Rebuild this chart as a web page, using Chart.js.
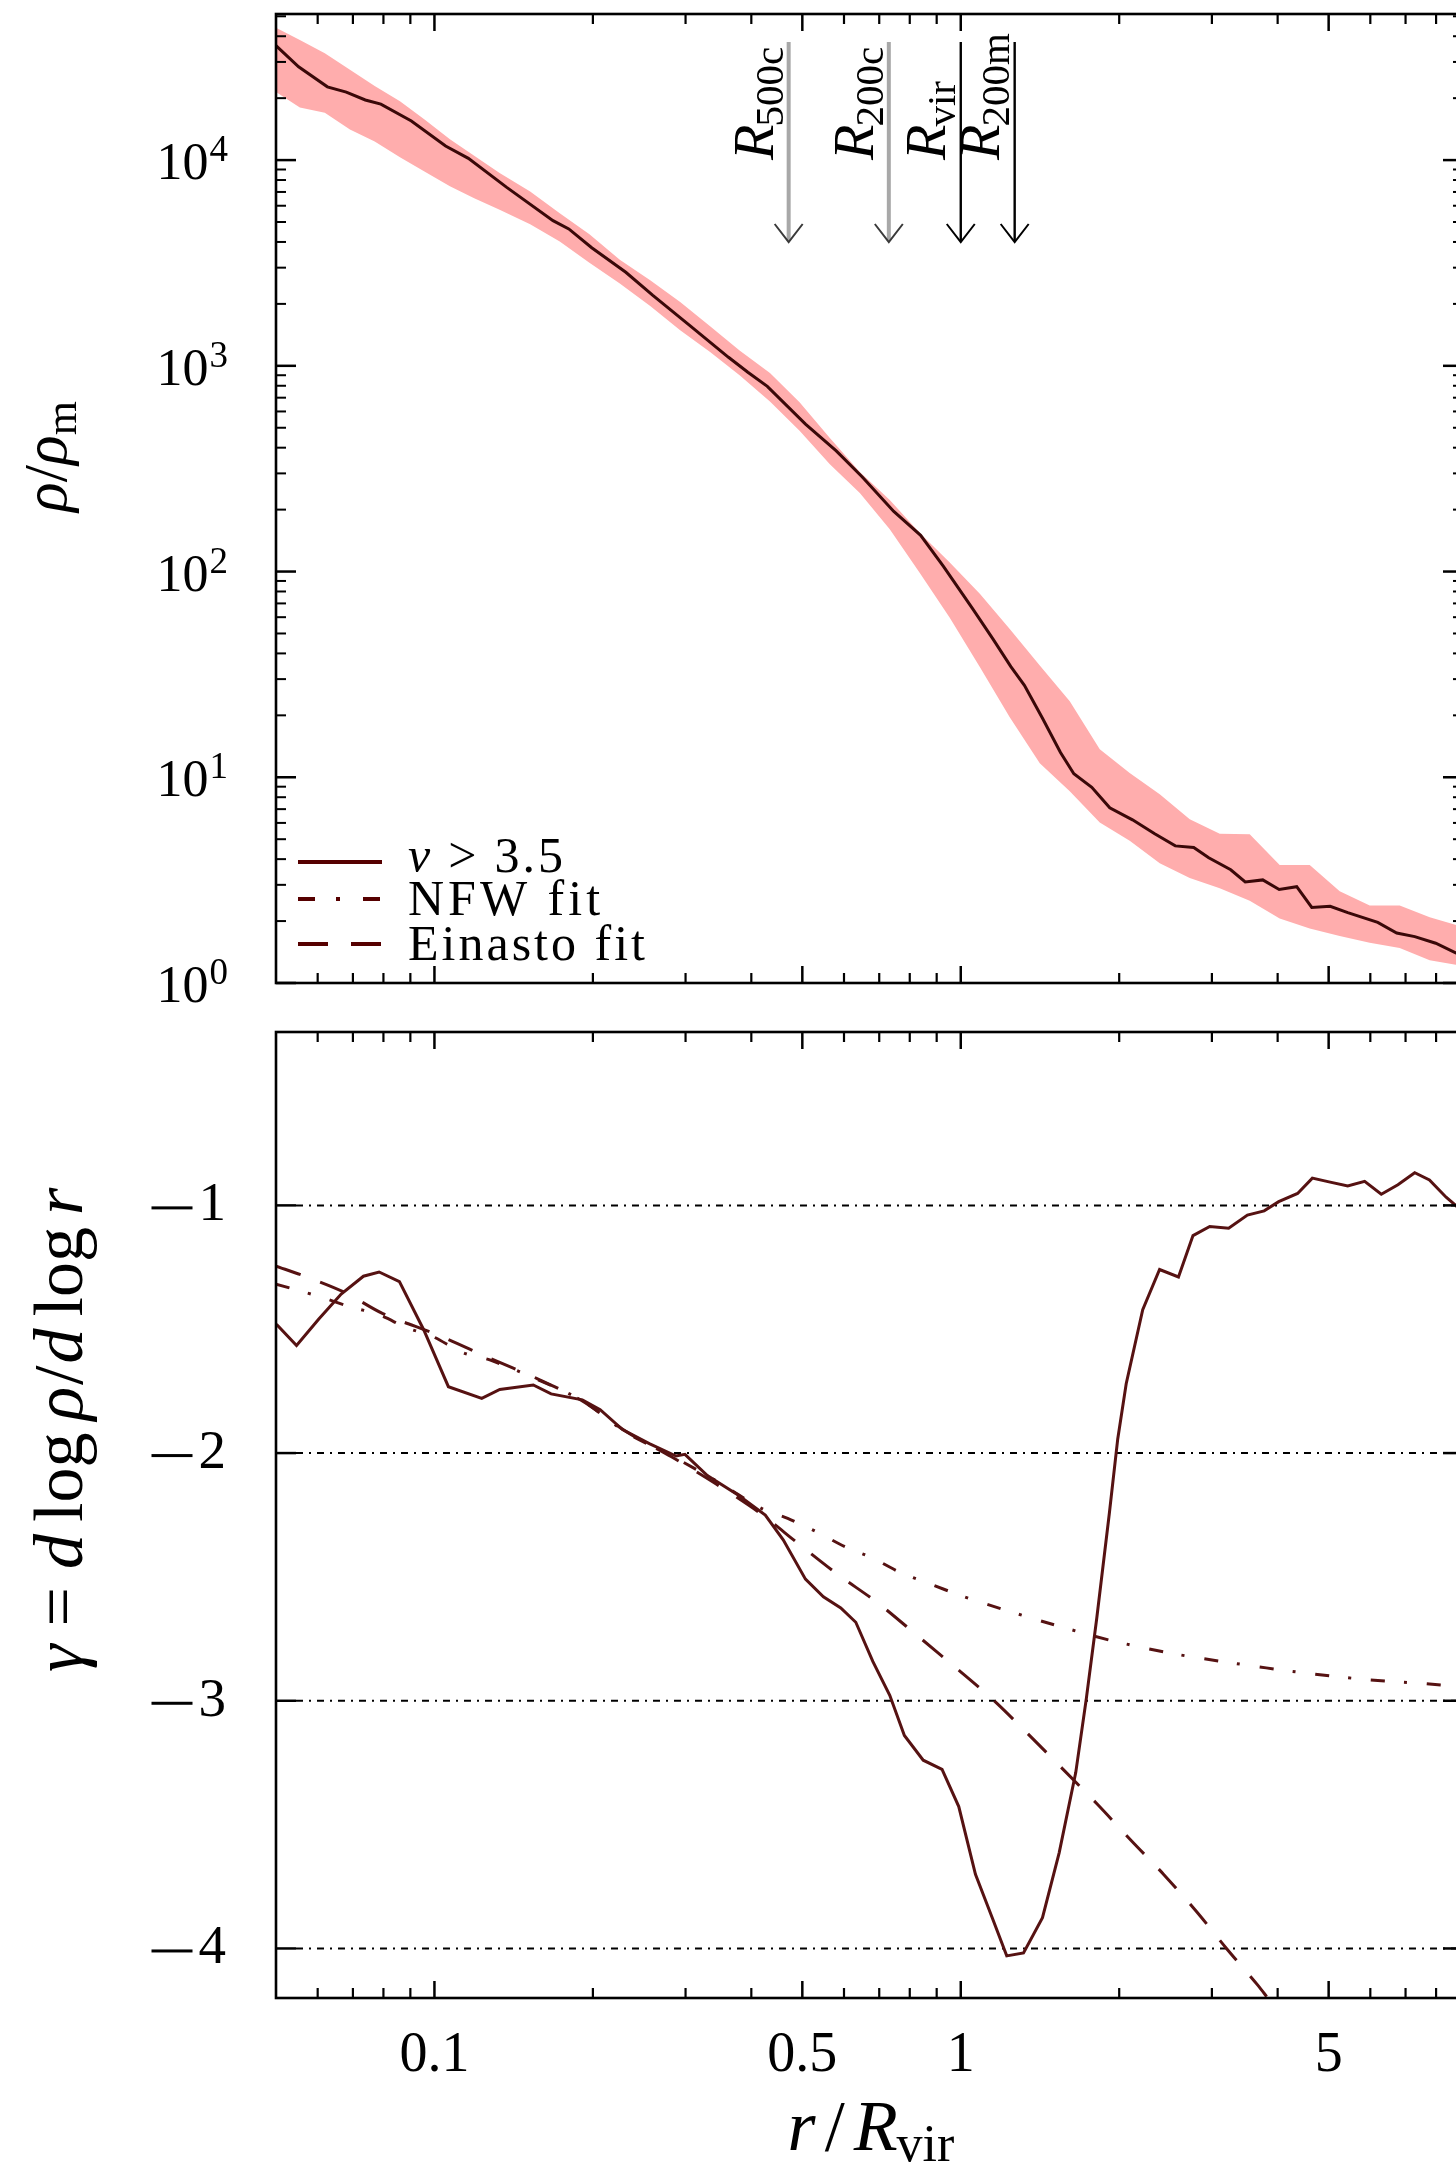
<!DOCTYPE html>
<html>
<head>
<meta charset="utf-8">
<title>Density profile and logarithmic slope</title>
<script src="https://cdn.jsdelivr.net/npm/chart.js@4.4.1/dist/chart.umd.min.js"></script>
<style>
  html, body { margin: 0; padding: 0; background: #fff; overflow: hidden; }
  #wrap { position: relative; width: 1456px; height: 2169px; overflow: hidden; background: #fff; }
  canvas { position: absolute; left: 0; }
</style>
</head>
<body>
<div id="wrap">
  <canvas id="densityCanvas" width="1470" height="1010" style="top:0px"></canvas>
  <canvas id="slopeCanvas" width="1470" height="1159" style="top:1010px"></canvas>
</div>
<script>
// ---------------- data ----------------
// radial bins (r / R_vir) of the 68% scatter band
const bandR = [0.05, 0.0555, 0.0619, 0.0691, 0.077, 0.086, 0.0959, 0.107, 0.119, 0.133, 0.152, 0.173, 0.197, 0.225, 0.257, 0.293, 0.334, 0.380, 0.434, 0.494, 0.564, 0.643, 0.733, 0.836, 0.953, 1.087, 1.239, 1.413, 1.611, 1.837, 2.094, 2.388, 2.723, 3.105, 3.54, 4.036, 4.603, 5.248, 5.984, 6.823, 7.78, 9.0];
const bandLow = [21420, 18030, 17010, 14080, 12330, 10320, 8773, 7458, 6526, 5731, 4882, 4022, 3168, 2515, 1956, 1490, 1168, 900, 671, 483, 332, 241, 160.5, 98.3, 59.7, 34.4, 19.6, 11.7, 8.55, 6.03, 4.91, 3.82, 3.24, 2.89, 2.51, 2.06, 1.84, 1.69, 1.57, 1.48, 1.29, 1.21];
const bandHigh = [44030, 38370, 33020, 27480, 22940, 19330, 15690, 12630, 10490, 8655, 7035, 5523, 4355, 3280, 2604, 2045, 1555, 1187, 922, 665, 446, 305, 222.8, 153.8, 110.6, 78.1, 52.6, 34.9, 23.4, 13.7, 10.5, 8.28, 6.25, 5.32, 5.28, 3.75, 3.75, 2.79, 2.38, 2.38, 2.09, 1.87];

// median stacked profile, nu > 3.5
const medianR = [0.05, 0.0552, 0.0626, 0.068, 0.0739, 0.0791, 0.0904, 0.105, 0.116, 0.137, 0.168, 0.180, 0.199, 0.231, 0.260, 0.307, 0.362, 0.394, 0.429, 0.507, 0.580, 0.650, 0.746, 0.839, 0.927, 1.053, 1.150, 1.245, 1.321, 1.429, 1.547, 1.640, 1.774, 1.919, 2.120, 2.336, 2.556, 2.771, 2.959, 3.258, 3.471, 3.748, 4.027, 4.348, 4.644, 5.034, 5.436, 6.198, 6.734, 7.288, 7.988, 8.716, 9.0];
const medianRho = [36000, 28400, 22700, 21400, 19600, 18700, 15500, 11700, 10200, 7390, 5080, 4630, 3750, 2850, 2200, 1556, 1100, 930, 795, 521, 386, 288, 196, 150, 106, 66, 47.2, 34.5, 28.0, 19.4, 13.2, 10.4, 8.94, 7.11, 6.21, 5.31, 4.64, 4.56, 4.06, 3.55, 3.10, 3.17, 2.85, 2.94, 2.33, 2.36, 2.20, 1.97, 1.75, 1.68, 1.56, 1.40, 1.36];

// logarithmic slope of the median profile
const slopeR = [0.0501, 0.0547, 0.0603, 0.0665, 0.0733, 0.0785, 0.0858, 0.0954, 0.1063, 0.1230, 0.1331, 0.1541, 0.1666, 0.1910, 0.2065, 0.2277, 0.2560, 0.2878, 0.2992, 0.3300, 0.3781, 0.4252, 0.4599, 0.5069, 0.5483, 0.5916, 0.6318, 0.6806, 0.7330, 0.7814, 0.8485, 0.9214, 0.9913, 1.0664, 1.1476, 1.2228, 1.3159, 1.4298, 1.5380, 1.6537, 1.7322, 1.8129, 1.9157, 1.9870, 2.0622, 2.2168, 2.3865, 2.5920, 2.7621, 2.9720, 3.2285, 3.5046, 3.7710, 4.0187, 4.3652, 4.6558, 5.0083, 5.4356, 5.8530, 6.2951, 6.7701, 7.2860, 7.7713, 8.3594, 8.7158, 9.0];
const slopeGamma = [-1.480, -1.566, -1.459, -1.358, -1.286, -1.269, -1.308, -1.502, -1.732, -1.779, -1.743, -1.725, -1.761, -1.785, -1.825, -1.905, -1.962, -2.012, -2.005, -2.091, -2.170, -2.250, -2.350, -2.509, -2.580, -2.625, -2.683, -2.841, -2.978, -3.140, -3.240, -3.277, -3.427, -3.701, -3.876, -4.030, -4.018, -3.876, -3.614, -3.290, -2.991, -2.667, -2.243, -1.944, -1.720, -1.421, -1.259, -1.289, -1.122, -1.085, -1.092, -1.039, -1.022, -0.985, -0.952, -0.890, -0.905, -0.922, -0.903, -0.955, -0.917, -0.868, -0.897, -0.967, -1.000, -1.030];

// slope of the NFW fit
const nfwR = [0.05, 0.06, 0.0686, 0.0787, 0.0885, 0.0989, 0.1134, 0.1274, 0.157, 0.191, 0.232, 0.282, 0.343, 0.417, 0.469, 0.532, 0.604, 0.680, 0.764, 0.868, 0.994, 1.127, 1.470, 1.933, 2.521, 3.317, 4.365, 5.799, 7.628, 9.0];
const nfwGamma = [-1.318, -1.366, -1.407, -1.443, -1.494, -1.528, -1.595, -1.624, -1.703, -1.789, -1.918, -2.011, -2.112, -2.222, -2.264, -2.318, -2.379, -2.424, -2.480, -2.526, -2.573, -2.612, -2.687, -2.757, -2.809, -2.849, -2.884, -2.913, -2.931, -2.945];

// slope of the Einasto fit
const einastoR = [0.05, 0.0567, 0.0676, 0.0798, 0.1017, 0.1269, 0.157, 0.191, 0.232, 0.282, 0.343, 0.417, 0.4876, 0.5812, 0.6956, 0.826, 0.9766, 1.1477, 1.3406, 1.5666, 1.8199, 2.1073, 2.4295, 2.8043, 3.198, 3.67, 3.83];
const einastoGamma = [-1.245, -1.286, -1.352, -1.437, -1.524, -1.615, -1.700, -1.790, -1.915, -2.015, -2.125, -2.245, -2.360, -2.487, -2.605, -2.736, -2.865, -2.993, -3.133, -3.278, -3.419, -3.564, -3.701, -3.851, -4.000, -4.149, -4.200];

// characteristic radii, in units of R_vir
const radiusNames = ['500c', '200c', 'vir', '200m'];
const radiusValues = [0.471, 0.730, 1.0, 1.266];

// axis ticks
const xMajorTicks = [0.1, 0.5, 1, 5];
const xTickLabels = ['0.1', '0.5', '1', '5'];
const xMinorTicks = [0.06, 0.07, 0.08, 0.09, 0.2, 0.3, 0.4, 0.6, 0.7, 0.8, 0.9, 2, 3, 4, 6, 7, 8];
const densityPowers = [0, 1, 2, 3, 4];
const slopeTicks = [-1, -2, -3, -4];
const slopeTickDigits = ['1', '2', '3', '4'];

// legend entries
const legendNames = ['3.5', 'NFW fit', 'Einasto fit'];

// ---------------- styling helpers ----------------
const FAM = '"Liberation Serif", "Times New Roman", serif';
const font = (size, style) => (style ? style + ' ' : '') + size + 'px ' + FAM;
const LINE_TOP = '#3a0808';
const LINE_BOT = '#561212';
const BAND = '#ffadad';
const NFW_DASH = [14, 19, 3, 20];
const EIN_DASH = [26, 21];

function seg(ctx, x0, y0, x1, y1) {
  ctx.beginPath(); ctx.moveTo(x0, y0); ctx.lineTo(x1, y1); ctx.stroke();
}
function runsWidth(ctx, runs) {
  let w = 0;
  for (const r of runs) {
    ctx.font = r.font;
    ctx.letterSpacing = (r.ls || 0) + 'px';
    w += ctx.measureText(r.text).width + (r.gap || 0);
  }
  ctx.letterSpacing = '0px';
  return w;
}
function drawRuns(ctx, x, y, runs) {
  let cx = x;
  for (const r of runs) {
    ctx.font = r.font;
    ctx.letterSpacing = (r.ls || 0) + 'px';
    ctx.fillText(r.text, cx, y + (r.dy || 0));
    cx += ctx.measureText(r.text).width + (r.gap || 0);
  }
  ctx.letterSpacing = '0px';
  return cx - x;
}
// text read bottom-to-top, centred on cy, baseline at x = bx
function drawVertical(ctx, bx, cy, runs) {
  const w = runsWidth(ctx, runs);
  ctx.save();
  ctx.translate(bx, cy + w / 2);
  ctx.rotate(-Math.PI / 2);
  drawRuns(ctx, 0, 0, runs);
  ctx.restore();
}
function drawXTicks(ctx, a, xs) {
  ctx.strokeStyle = '#000';
  ctx.lineWidth = 2.5;
  xMajorTicks.forEach(v => {
    const p = xs.getPixelForValue(v);
    seg(ctx, p, a.top, p, a.top + 17); seg(ctx, p, a.bottom, p, a.bottom - 17);
  });
  ctx.lineWidth = 2.2;
  xMinorTicks.forEach(v => {
    const p = xs.getPixelForValue(v);
    seg(ctx, p, a.top, p, a.top + 10); seg(ctx, p, a.bottom, p, a.bottom - 10);
  });
}

// ---------------- upper panel: density profile ----------------
const densityFrame = {
  id: 'densityFrame',
  afterDatasetsDraw(chart) {
    const { ctx, chartArea: a, scales: { x, y } } = chart;
    ctx.save();
    ctx.fillStyle = '#000';
    ctx.strokeStyle = '#000';
    ctx.lineWidth = 2.6;
    ctx.strokeRect(a.left, a.top, a.right - a.left, a.bottom - a.top);
    drawXTicks(ctx, a, x);

    // decade ticks, minor ticks and 10^k labels
    densityPowers.forEach(k => {
      const base = Math.pow(10, k);
      const p = y.getPixelForValue(base);
      ctx.lineWidth = 2.5;
      seg(ctx, a.left, p, a.left + 20, p); seg(ctx, a.right, p, a.right - 20, p);
      for (let m = 2; m <= 9; m++) {
        const v = m * base;
        if (v > y.max) break;
        const q = y.getPixelForValue(v);
        ctx.lineWidth = 2;
        seg(ctx, a.left, q, a.left + 10, q); seg(ctx, a.right, q, a.right - 10, q);
      }
      ctx.font = font(37);
      const wk = ctx.measureText(String(k)).width;
      ctx.font = font(52);
      const w10 = ctx.measureText('10').width;
      const xr = a.left - 48;
      ctx.fillText('10', xr - wk - w10 - 1, p + 19);
      ctx.font = font(37);
      ctx.fillText(String(k), xr - wk, p + 1);
    });

    // characteristic radii
    radiusValues.forEach((v, i) => {
      const p = x.getPixelForValue(v);
      const y0 = a.top + 28, y1 = a.top + 228;
      const grey = i < 2;
      ctx.strokeStyle = grey ? '#a8a8a8' : '#000';
      ctx.lineWidth = grey ? 4 : 2.4;
      seg(ctx, p, y0, p, y1 - 1);
      ctx.strokeStyle = grey ? '#3a3a3a' : '#000';
      ctx.lineWidth = 2;
      ctx.beginPath(); ctx.moveTo(p - 14, y1 - 18); ctx.lineTo(p, y1); ctx.lineTo(p + 14, y1 - 18); ctx.stroke();
      ctx.save();
      ctx.translate(p - 16, a.top + 146);
      ctx.rotate(-Math.PI / 2);
      ctx.fillStyle = '#000';
      drawRuns(ctx, 0, 0, [
        { text: 'R', font: font(58, 'italic'), gap: -2 },
        { text: radiusNames[i], font: font(41), dy: 10 }
      ]);
      ctx.restore();
    });

    // legend
    ctx.lineWidth = 4;
    ctx.strokeStyle = '#560000';
    const lx0 = a.left + 22, lx1 = a.left + 106;
    const rows = [a.bottom - 121, a.bottom - 84, a.bottom - 39];
    const dashes = [[], [17, 21, 4, 23], [30, 23]];
    rows.forEach((ry, i) => {
      ctx.setLineDash(dashes[i]);
      seg(ctx, lx0, ry, lx1, ry);
    });
    ctx.setLineDash([]);
    ctx.fillStyle = '#000';
    const tx = a.left + 132;
    drawRuns(ctx, tx, rows[0] + 10, [
      { text: '\u03bd', font: font(50, 'italic'), gap: 18 },
      { text: '>', font: font(50), gap: 18 },
      { text: legendNames[0], font: font(50), ls: 3 }
    ]);
    drawRuns(ctx, tx, rows[1] + 16, [{ text: legendNames[1], font: font(50), ls: 4 }]);
    drawRuns(ctx, tx, rows[2] + 16, [{ text: legendNames[2], font: font(50), ls: 3 }]);

    // y-axis title
    drawVertical(ctx, 66, (a.top + a.bottom) / 2 - 42, [
      { text: '\u03c1', font: font(62, 'italic') },
      { text: '/', font: font(62) },
      { text: '\u03c1', font: font(62, 'italic') },
      { text: 'm', font: font(44), dy: 10 }
    ]);
    ctx.restore();
  }
};

new Chart(document.getElementById('densityCanvas'), {
  type: 'scatter',
  data: {
    datasets: [
      {
        label: '\u03bd > 3.5',
        data: medianR.map((r, i) => ({ x: r, y: medianRho[i] })),
        showLine: true, borderColor: LINE_TOP, borderWidth: 3,
        pointRadius: 0, fill: false, tension: 0, order: 0
      },
      {
        data: bandR.map((r, i) => ({ x: r, y: bandLow[i] })),
        showLine: true, borderWidth: 0, borderColor: 'rgba(0,0,0,0)',
        pointRadius: 0, fill: false, tension: 0, order: 1
      },
      {
        data: bandR.map((r, i) => ({ x: r, y: bandHigh[i] })),
        showLine: true, borderWidth: 0, borderColor: 'rgba(0,0,0,0)',
        backgroundColor: BAND, pointRadius: 0, fill: '-1', tension: 0, order: 2
      }
    ]
  },
  options: {
    responsive: false,
    animation: false,
    layout: { padding: { left: 276, right: 7, top: 14, bottom: 27 } },
    scales: {
      x: { type: 'logarithmic', min: 0.05, max: 9, display: false },
      y: { type: 'logarithmic', min: 1, max: 51300, display: false }
    },
    plugins: { legend: { display: false }, tooltip: { enabled: false } }
  },
  plugins: [densityFrame]
});

// ---------------- lower panel: logarithmic slope ----------------
const slopeFrame = {
  id: 'slopeFrame',
  beforeDatasetsDraw(chart) {
    const { ctx, chartArea: a, scales: { y } } = chart;
    ctx.save();
    ctx.strokeStyle = '#000';
    ctx.lineWidth = 2;
    ctx.setLineDash([7, 6, 2, 6]);
    slopeTicks.forEach(v => {
      const p = y.getPixelForValue(v);
      seg(ctx, a.left + 20, p, a.right, p);
    });
    ctx.restore();
  },
  afterDatasetsDraw(chart) {
    const { ctx, chartArea: a, scales: { x, y } } = chart;
    ctx.save();
    ctx.fillStyle = '#000';
    ctx.strokeStyle = '#000';
    ctx.lineWidth = 2.6;
    ctx.strokeRect(a.left, a.top, a.right - a.left, a.bottom - a.top);
    drawXTicks(ctx, a, x);
    slopeTicks.forEach((v, i) => {
      const p = y.getPixelForValue(v);
      ctx.lineWidth = 2.5;
      seg(ctx, a.left, p, a.left + 20, p); seg(ctx, a.right, p, a.right - 20, p);
      // label: long minus sign followed by the digit
      ctx.font = font(55);
      const wd = ctx.measureText(slopeTickDigits[i]).width;
      const xr = a.left - 50;
      ctx.fillText(slopeTickDigits[i], xr - wd, p + 15);
      ctx.fillRect(xr - wd - 47, p + 1, 41, 3);
    });
    // x tick labels
    ctx.font = font(56);
    ctx.textAlign = 'center';
    xMajorTicks.forEach((v, i) => {
      ctx.fillText(xTickLabels[i], x.getPixelForValue(v), a.bottom + 73);
    });
    ctx.textAlign = 'left';

    // x-axis title r / R_vir
    const xt = [
      { text: 'r', font: font(72, 'italic'), gap: 9 },
      { text: '/', font: font(72), gap: 9 },
      { text: 'R', font: font(72, 'italic'), gap: -1 },
      { text: 'vir', font: font(52), dy: 11 }
    ];
    const wx = runsWidth(ctx, xt);
    drawRuns(ctx, 871 - wx / 2, a.bottom + 152, xt);

    // y-axis title
    drawVertical(ctx, 82, a.top + 398, [
      { text: '\u03b3', font: font(70, 'italic'), gap: 18 },
      { text: '=', font: font(70), gap: 18 },
      { text: 'd', font: font(70, 'italic'), gap: 12 },
      { text: 'log', font: font(70), gap: 12 },
      { text: '\u03c1', font: font(70, 'italic'), gap: 2 },
      { text: '/', font: font(70), gap: 2 },
      { text: 'd', font: font(70, 'italic'), gap: 12 },
      { text: 'log', font: font(70), gap: 12 },
      { text: 'r', font: font(70, 'italic') }
    ]);
    ctx.restore();
  }
};

new Chart(document.getElementById('slopeCanvas'), {
  type: 'scatter',
  data: {
    datasets: [
      {
        label: '\u03bd > 3.5',
        data: slopeR.map((r, i) => ({ x: r, y: slopeGamma[i] })),
        showLine: true, borderColor: LINE_BOT, borderWidth: 3,
        pointRadius: 0, fill: false, tension: 0
      },
      {
        label: 'NFW fit',
        data: nfwR.map((r, i) => ({ x: r, y: nfwGamma[i] })),
        showLine: true, borderColor: LINE_BOT, borderWidth: 3, borderDash: NFW_DASH,
        pointRadius: 0, fill: false, tension: 0.3
      },
      {
        label: 'Einasto fit',
        data: einastoR.map((r, i) => ({ x: r, y: einastoGamma[i] })),
        showLine: true, borderColor: LINE_BOT, borderWidth: 3, borderDash: EIN_DASH,
        pointRadius: 0, fill: false, tension: 0.3
      }
    ]
  },
  options: {
    responsive: false,
    animation: false,
    layout: { padding: { left: 276, right: 7, top: 22, bottom: 171 } },
    scales: {
      x: { type: 'logarithmic', min: 0.05, max: 9, display: false },
      y: { type: 'linear', min: -4.2, max: -0.3, display: false }
    },
    plugins: { legend: { display: false }, tooltip: { enabled: false } }
  },
  plugins: [slopeFrame]
});
</script>
</body>
</html>
